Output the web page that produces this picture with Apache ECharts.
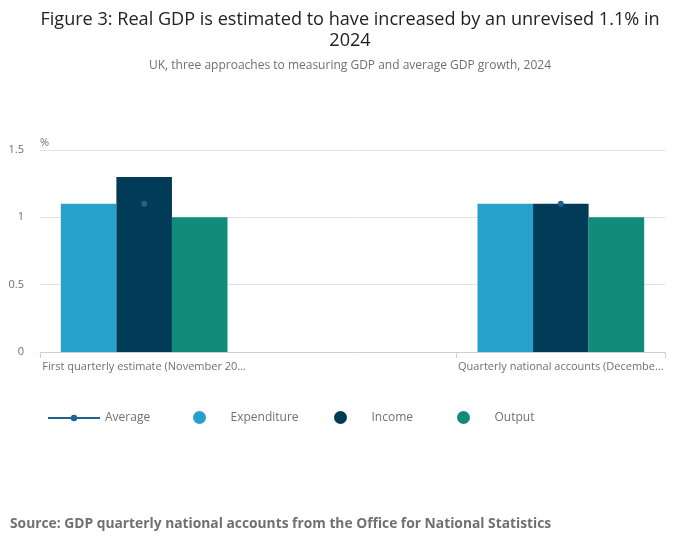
<!DOCTYPE html>
<html>
<head>
<meta charset="utf-8">
<script src="https://cdn.jsdelivr.net/npm/echarts@6/dist/echarts.min.js"></script>
<style>
  html, body { margin: 0; padding: 0; background: #fff; }
  #chart { width: 700px; height: 549px; }
</style>
</head>
<body>
<div id="chart"></div>
<script>
// values
const categories = [
  'First quarterly estimate (November 2024)',
  '',
  'Quarterly national accounts (December 2024)'
];
const average = [1.1, null, 1.1];
const expenditure = [1.1, null, 1.1];
const income = [1.3, null, 1.1];
const output = [1.0, null, 1.0];

const FONT = '"Open Sans", sans-serif';
const GREY = '#707070';

// one legend per item so spacing follows the original
function legendItem(name, left, top, h, icon) {
  return {
    left: left,
    top: top,
    itemWidth: 52,
    itemHeight: h,
    textStyle: { fontFamily: FONT, fontSize: 12, color: GREY },
    data: [icon ? { name: name, icon: icon } : name]
  };
}

const chart = echarts.init(document.getElementById('chart'));

chart.setOption({
  animation: false,
  textStyle: { fontFamily: FONT },
  title: {
    text: 'Figure 3: Real GDP is estimated to have increased by an unrevised 1.1% in\n2024',
    subtext: 'UK, three approaches to measuring GDP and average GDP growth, 2024',
    left: 'center',
    top: 4,
    itemGap: 9,
    textStyle: {
      fontFamily: FONT,
      fontSize: 18.1,
      fontWeight: 'normal',
      color: '#222',
      lineHeight: 21
    },
    subtextStyle: {
      fontFamily: FONT,
      fontSize: 12,
      color: GREY
    }
  },
  graphic: [{
    type: 'text',
    left: 10,
    top: 517,
    style: {
      text: 'Source: GDP quarterly national accounts from the Office for National Statistics',
      font: 'bold 13.8px "Open Sans", sans-serif',
      fill: GREY
    }
  }],
  legend: [
    legendItem('Average', 42, 407, 8),
    legendItem('Expenditure', 188, 406, 13, 'circle'),
    legendItem('Income', 329, 406, 13, 'circle'),
    legendItem('Output', 452, 406, 13, 'circle')
  ],
  grid: { left: 40, right: 35, top: 150, bottom: 197 },
  xAxis: {
    type: 'category',
    data: categories,
    axisLine: { lineStyle: { color: '#c5d1e3' } },
    axisTick: { show: true, length: 6, lineStyle: { color: '#c5d1e3' } },
    axisLabel: {
      color: GREY,
      fontSize: 11,
      margin: 9,
      width: 210,
      overflow: 'truncate',
      ellipsis: '...'
    }
  },
  yAxis: {
    type: 'value',
    min: 0,
    max: 1.5,
    interval: 0.5,
    name: '%',
    nameLocation: 'end',
    nameGap: 2,
    nameTextStyle: { color: GREY, fontSize: 11, align: 'left', verticalAlign: 'bottom' },
    axisLine: { show: false },
    axisTick: { show: false },
    axisLabel: { color: GREY, fontSize: 11, margin: 16 },
    splitLine: { lineStyle: { color: '#e2e2e2' } }
  },
  series: [
    {
      name: 'Average',
      type: 'line',
      data: average,
      z: 5,
      symbol: 'circle',
      symbolSize: 6,
      connectNulls: false,
      itemStyle: { color: '#206095' },
      lineStyle: { color: '#206095', width: 3 }
    },
    {
      name: 'Expenditure',
      type: 'bar',
      data: expenditure,
      barGap: '0%',
      barCategoryGap: '20%',
      itemStyle: { color: '#27a0cc' }
    },
    {
      name: 'Income',
      type: 'bar',
      data: income,
      barGap: '0%',
      barCategoryGap: '20%',
      itemStyle: { color: '#003c57' }
    },
    {
      name: 'Output',
      type: 'bar',
      data: output,
      barGap: '0%',
      barCategoryGap: '20%',
      itemStyle: { color: '#118c7b' }
    }
  ]
});
</script>
</body>
</html>
